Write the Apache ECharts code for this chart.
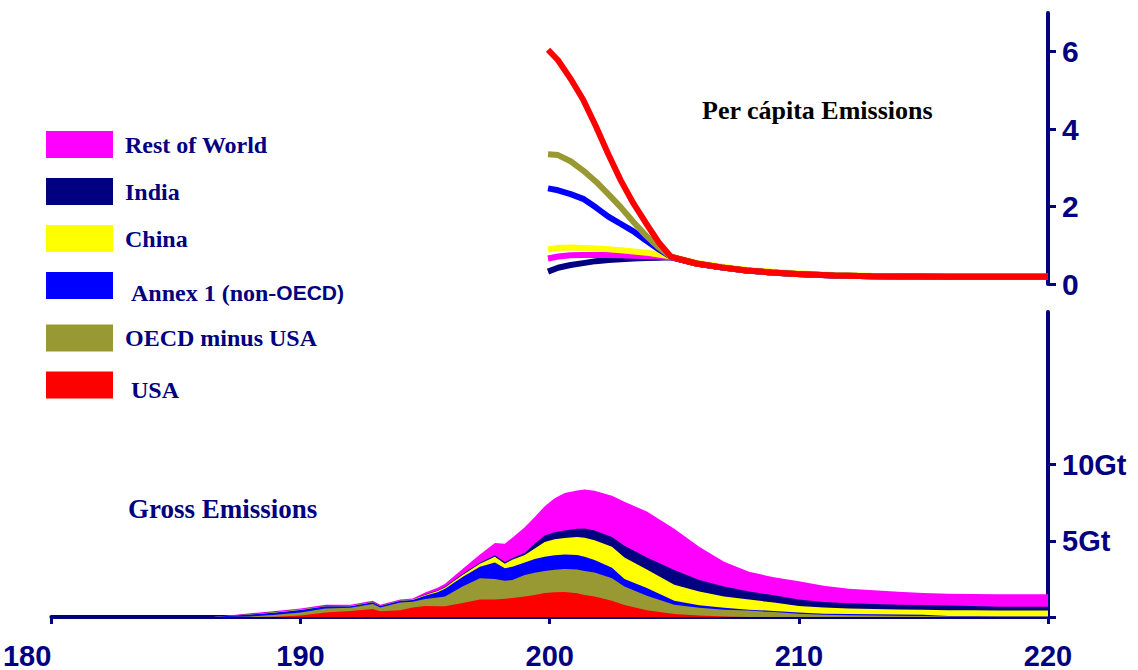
<!DOCTYPE html>
<html><head><meta charset="utf-8">
<script src="https://cdn.jsdelivr.net/npm/echarts@6/dist/echarts.min.js"></script>
<style>html,body{margin:0;padding:0;background:#fff}#c{width:1138px;height:670px}</style>
</head><body><div id="c"></div>
<script>
// ---------- data ----------
const regionNames = ['USA', 'OECD minus USA', 'Annex 1 (non-OECD)', 'China', 'India', 'Rest of World'];
const regionColors = ['#ff0000', '#999933', '#0000ff', '#ffff00', '#000080', '#ff00ff'];

// Gross emissions (GtC per year), per region
const grossYears = [1865,1870,1880,1890,1900,1910,1920,1929,1932,1940,1945,1950,1955,1958,1965,1972,1978,1982,1985,1990,1994,1998,2002,2006,2011,2014,2018,2025,2030,2039,2050,2060,2070,2080,2090,2100,2110,2120,2130,2140,2150,2160,2170,2180,2190,2200];
const grossUSA   = [0,0,0,0.02,0.10,0.30,0.40,0.52,0.38,0.45,0.62,0.72,0.70,0.70,0.92,1.14,1.15,1.20,1.25,1.35,1.45,1.57,1.62,1.64,1.55,1.45,1.35,1.07,0.78,0.45,0.20,0.10,0.03,0,0,0,0,0,0,0,0,0,0,0,0,0];
const grossOECD  = [0,0,0.04,0.12,0.20,0.26,0.20,0.33,0.24,0.50,0.38,0.46,0.58,0.65,1.08,1.40,1.35,1.17,1.18,1.41,1.45,1.45,1.48,1.51,1.57,1.57,1.56,1.47,1.22,0.95,0.61,0.50,0.45,0.42,0.32,0.22,0.15,0.12,0.10,0.08,0.06,0.04,0.04,0.03,0.03,0.03];
const grossAnnex = [0,0.06,0.12,0.16,0.16,0.14,0.11,0.12,0.10,0.11,0.12,0.22,0.34,0.50,0.62,0.76,1.08,0.83,0.87,0.82,0.90,0.93,0.95,0.95,0.94,0.93,0.82,0.69,0.50,0.50,0.26,0.17,0.12,0.06,0.08,0.08,0.07,0.08,0.08,0.08,0.08,0.02,0.02,0.02,0.02,0.02];
const grossChina = [0,0.01,0.02,0.03,0.03,0.02,0.02,0.02,0.02,0.02,0.02,0.05,0.08,0.09,0.13,0.20,0.37,0.30,0.45,0.48,0.70,0.97,1.05,1.08,1.19,1.25,1.30,1.37,1.40,1.22,1.04,0.91,0.75,0.66,0.55,0.42,0.40,0.36,0.34,0.34,0.33,0.39,0.38,0.38,0.38,0.38];
const grossIndia = [0,0,0.01,0.01,0.01,0.01,0.01,0.01,0.01,0.01,0.01,0.03,0.04,0.04,0.07,0.05,0.10,0.10,0.10,0.14,0.30,0.43,0.45,0.50,0.54,0.60,0.65,0.64,0.77,0.78,0.97,0.75,0.65,0.54,0.47,0.43,0.36,0.34,0.33,0.30,0.31,0.31,0.28,0.25,0.25,0.25];
const grossRoW   = [0,0.02,0.05,0.06,0.06,0.07,0.06,0.06,0.05,0.05,0.07,0.12,0.18,0.20,0.33,0.55,0.80,1.20,1.35,1.69,1.75,1.91,2.23,2.45,2.51,2.56,2.60,2.71,2.88,3.02,2.71,2.17,1.62,1.29,1.18,1.20,1.07,0.96,0.90,0.85,0.80,0.77,0.79,0.81,0.81,0.81];

// Per capita emissions (tC per person), contraction & convergence
const pcYears  = [2001,2005,2010,2015,2020,2025,2030,2035,2040,2045,2050,2060,2070,2080,2090,2100,2115,2130,2160,2200];
const pcIndia  = [0.32,0.42,0.49,0.54,0.59,0.62,0.64,0.66,0.67,0.68,0.69,0.53,0.43,0.35,0.30,0.26,0.22,0.20,0.19,0.19];
const pcRoW    = [0.66,0.71,0.74,0.75,0.75,0.75,0.74,0.73,0.72,0.71,0.69,0.53,0.43,0.35,0.30,0.26,0.22,0.20,0.19,0.19];
const pcChina  = [0.89,0.93,0.94,0.93,0.92,0.90,0.87,0.84,0.81,0.76,0.71,0.55,0.45,0.37,0.32,0.28,0.235,0.21,0.19,0.19];
const pcAnnex  = [2.47,2.42,2.32,2.20,1.98,1.74,1.55,1.36,1.12,0.90,0.70,0.53,0.43,0.35,0.30,0.26,0.22,0.20,0.19,0.19];
const pcOECD   = [3.35,3.33,3.17,2.93,2.65,2.32,1.98,1.60,1.25,0.95,0.70,0.53,0.43,0.35,0.30,0.26,0.22,0.20,0.19,0.19];
const pcUSA    = [6.05,5.78,5.30,4.76,4.08,3.35,2.67,2.08,1.57,1.08,0.70,0.53,0.43,0.35,0.30,0.26,0.22,0.20,0.19,0.19];

const xTickLabels = ['180', '190', '200', '210', '220'];
const perCapitaTicks = [0, 2, 4, 6];
const grossLabelTicks = [5, 10];
const grossTickMarks = [0, 5, 10];

// ---------- chart ----------
const NAVY = '#000080';
const grossSeriesData = [grossUSA, grossOECD, grossAnnex, grossChina, grossIndia, grossRoW];
const pcSeriesData = [pcUSA, pcOECD, pcAnnex, pcChina, pcIndia, pcRoW];
const pair = (xs, ys) => xs.map((x, i) => [x, ys[i]]);

// stacked totals (bottom-up) – the library's stack would stack along the value x axis,
// so the stack tops are summed here and drawn from the top layer down (opaque fills).
const stackTops = [];
grossSeriesData.forEach((arr, k) => {
  stackTops.push(arr.map((v, i) => v + (k > 0 ? stackTops[k - 1][i] : 0)));
});

const series = [];
for (let k = regionNames.length - 1; k >= 0; k--) {
  series.push({
    name: regionNames[k], type: 'line', xAxisIndex: 1, yAxisIndex: 1,
    data: pair(grossYears, stackTops[k].map(v => Math.round(v * 1000) / 1000)),
    symbol: 'none', showSymbol: false,
    lineStyle: { width: 0 }, itemStyle: { color: regionColors[k] },
    areaStyle: { color: regionColors[k], opacity: 1 },
    z: 2, emphasis: { disabled: true }, silent: true
  });
}
// per capita lines, drawn so that USA ends up on top
const pcOrder = [4, 5, 3, 2, 1, 0];
pcOrder.forEach((i, k) => {
  series.push({
    name: regionNames[i], type: 'line', xAxisIndex: 0, yAxisIndex: 0,
    data: pair(pcYears, pcSeriesData[i]),
    symbol: 'none', showSymbol: false,
    lineStyle: { width: 6, color: regionColors[i] }, itemStyle: { color: regionColors[i] },
    z: 3 + k, emphasis: { disabled: true }, silent: true
  });
});

const boldSans = 'Liberation Sans, Arial, sans-serif';
const boldSerif = 'Liberation Serif, Times New Roman, serif';
const legendText = { fontFamily: boldSerif, fontWeight: 'bold', fontSize: 24, color: NAVY };

const option = {
  animation: false,
  backgroundColor: '#ffffff',
  title: [
    { text: 'Per cápita Emissions', left: 697, top: 92,
      textStyle: { fontFamily: boldSerif, fontWeight: 'bold', fontSize: 26, color: '#000000' } },
    { text: 'Gross Emissions', left: 123, top: 490,
      textStyle: { fontFamily: boldSerif, fontWeight: 'bold', fontSize: 27, color: NAVY } }
  ],
  legend: {
    orient: 'vertical', left: 41, top: 126, icon: 'rect',
    itemWidth: 67, itemHeight: 27, itemGap: 20,
    selectedMode: false,
    data: ['Rest of World', 'India', 'China', 'Annex 1 (non-OECD)', 'OECD minus USA', 'USA'],
    formatter: name => {
      if (name === 'Annex 1 (non-OECD)') return '{an|Annex 1 (non-}{ar|OECD)}';
      if (name === 'USA') return '{us|USA}';
      return '{t|' + name + '}';
    },
    textStyle: {
      rich: {
        t: Object.assign({ padding: [0, 0, 0, 7] }, legendText),
        an: Object.assign({ padding: [14, 0, 0, 13] }, legendText),
        ar: { fontFamily: boldSans, fontWeight: 'bold', fontSize: 21, color: NAVY, padding: [14, 0, 0, 0] },
        us: Object.assign({ padding: [10, 0, 0, 13] }, legendText)
      }
    }
  },
  grid: [
    { left: 43, right: 90, top: 13, height: 271 },
    { left: 43, right: 90, top: 312, height: 306 }
  ],
  xAxis: [
    { gridIndex: 0, type: 'value', min: 1800, max: 2200, show: false },
    { gridIndex: 1, type: 'value', min: 1800, max: 2200, interval: 100,
      splitLine: { show: false },
      axisLine: { show: true, lineStyle: { color: NAVY, width: 4 } },
      axisTick: { show: true, length: 7, lineStyle: { color: NAVY, width: 3 } },
      axisLabel: { margin: 24, color: NAVY, fontFamily: boldSans, fontWeight: 'bold', fontSize: 29,
        alignMinLabel: 'right',
        formatter: v => xTickLabels[Math.round((v - 1800) / 100)] } }
  ],
  yAxis: [
    { gridIndex: 0, type: 'value', position: 'right', min: 0, max: 7,
      splitLine: { show: false },
      axisLine: { show: true, lineStyle: { color: NAVY, width: 4 } },
      axisTick: { show: true, length: 8, customValues: perCapitaTicks, lineStyle: { color: NAVY, width: 3 } },
      axisLabel: { margin: 14, color: NAVY, fontFamily: boldSans, fontWeight: 'bold', fontSize: 30,
        customValues: perCapitaTicks } },
    { gridIndex: 1, type: 'value', position: 'right', min: 0, max: 20,
      splitLine: { show: false },
      axisLine: { show: true, lineStyle: { color: NAVY, width: 4 } },
      axisTick: { show: true, length: 8, customValues: grossTickMarks, lineStyle: { color: NAVY, width: 3 } },
      axisLabel: { margin: 14, color: NAVY, fontFamily: boldSans, fontWeight: 'bold', fontSize: 29,
        customValues: grossLabelTicks, formatter: v => v + 'Gt' } }
  ],
  series
};

const chart = echarts.init(document.getElementById('c'), null, { renderer: 'svg' });
chart.setOption(option);
</script>
</body></html>
